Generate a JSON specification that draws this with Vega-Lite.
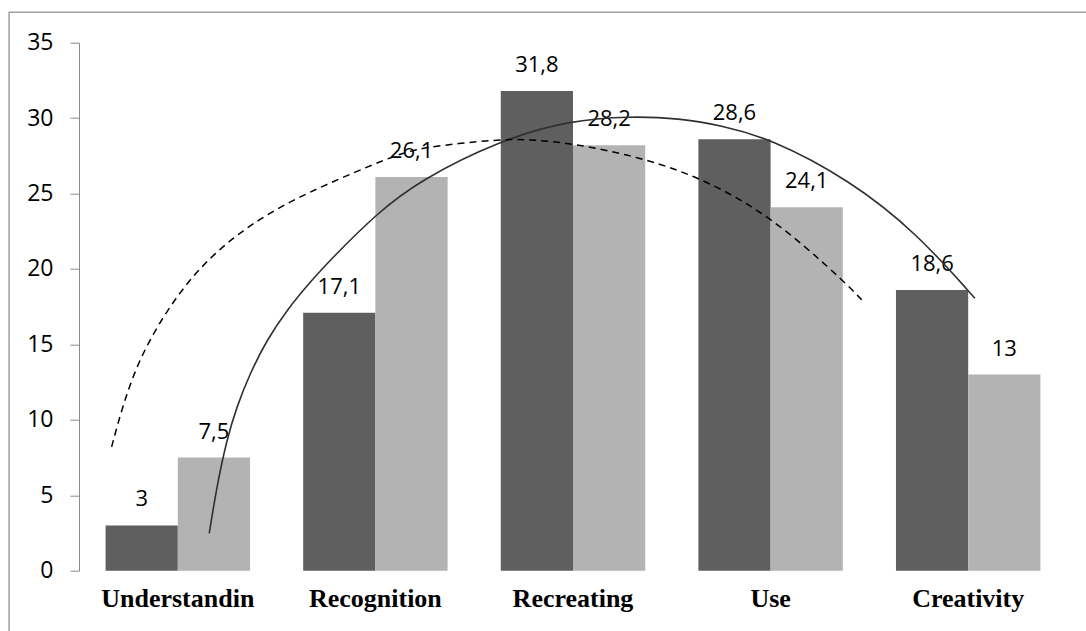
{
  "$schema": "https://vega.github.io/schema/vega-lite/v6.json",
  "width": 988,
  "height": 528,
  "autosize": "none",
  "padding": {"left": 79, "top": 42.7, "right": 19, "bottom": 60},
  "background": "white",
  "config": {
    "view": {"stroke": null},
    "locale": {"number": {"decimal": ",", "thousands": ".", "grouping": [3], "currency": ["", ""]}}
  },
  "datasets": {
    "bars": [
      {"category": "Understandin", "series": "A", "value": 3},
      {"category": "Understandin", "series": "B", "value": 7.5},
      {"category": "Recognition", "series": "A", "value": 17.1},
      {"category": "Recognition", "series": "B", "value": 26.1},
      {"category": "Recreating", "series": "A", "value": 31.8},
      {"category": "Recreating", "series": "B", "value": 28.2},
      {"category": "Use", "series": "A", "value": 28.6},
      {"category": "Use", "series": "B", "value": 24.1},
      {"category": "Creativity", "series": "A", "value": 18.6},
      {"category": "Creativity", "series": "B", "value": 13}
    ],
    "curves": [
      {"curve": "solid", "x": 0.659, "y": 2.47},
      {"curve": "solid", "x": 0.697, "y": 5.55},
      {"curve": "solid", "x": 0.747, "y": 8.65},
      {"curve": "solid", "x": 0.798, "y": 10.86},
      {"curve": "solid", "x": 0.865, "y": 13.07},
      {"curve": "solid", "x": 0.95, "y": 15.28},
      {"curve": "solid", "x": 1.051, "y": 17.27},
      {"curve": "solid", "x": 1.178, "y": 19.26},
      {"curve": "solid", "x": 1.27, "y": 20.58},
      {"curve": "solid", "x": 1.508, "y": 23.7},
      {"curve": "solid", "x": 1.726, "y": 25.89},
      {"curve": "solid", "x": 2.131, "y": 28.54},
      {"curve": "solid", "x": 2.485, "y": 29.86},
      {"curve": "solid", "x": 2.789, "y": 30.13},
      {"curve": "solid", "x": 3.041, "y": 29.99},
      {"curve": "solid", "x": 3.244, "y": 29.53},
      {"curve": "solid", "x": 3.497, "y": 28.67},
      {"curve": "solid", "x": 3.902, "y": 25.89},
      {"curve": "solid", "x": 4.241, "y": 22.37},
      {"curve": "solid", "x": 4.534, "y": 18.06},
      {"curve": "dashed", "x": 0.165, "y": 8.21},
      {"curve": "dashed", "x": 0.224, "y": 11.08},
      {"curve": "dashed", "x": 0.309, "y": 14.17},
      {"curve": "dashed", "x": 0.444, "y": 17.27},
      {"curve": "dashed", "x": 0.596, "y": 19.92},
      {"curve": "dashed", "x": 0.781, "y": 22.13},
      {"curve": "dashed", "x": 0.983, "y": 23.9},
      {"curve": "dashed", "x": 1.22, "y": 25.44},
      {"curve": "dashed", "x": 1.574, "y": 27.41},
      {"curve": "dashed", "x": 1.726, "y": 28.07},
      {"curve": "dashed", "x": 2.131, "y": 28.6},
      {"curve": "dashed", "x": 2.267, "y": 28.6},
      {"curve": "dashed", "x": 2.5, "y": 28.34},
      {"curve": "dashed", "x": 2.839, "y": 27.41},
      {"curve": "dashed", "x": 3.143, "y": 26.08},
      {"curve": "dashed", "x": 3.497, "y": 23.57},
      {"curve": "dashed", "x": 3.866, "y": 19.26},
      {"curve": "dashed", "x": 3.963, "y": 17.93}
    ]
  },
  "layer": [
    {
      "data": {"name": "bars"},
      "layer": [
        {
          "mark": {"type": "bar"},
          "encoding": {
            "x": {
              "field": "category", "type": "nominal", "sort": null,
              "scale": {"paddingInner": 0.269, "paddingOuter": 0.1345},
              "axis": {"title": null, "domain": false, "ticks": false, "labelAngle": 0,
                "labelFont": "Liberation Serif", "labelFontWeight": "bold", "labelFontSize": 26,
                "labelColor": "#000000", "labelPadding": 36, "labelBaseline": "alphabetic"}
            },
            "xOffset": {"field": "series", "type": "nominal", "scale": {"paddingInner": 0, "paddingOuter": 0}},
            "y": {
              "field": "value", "type": "quantitative",
              "scale": {"domain": [0, 35], "nice": false},
              "axis": {"title": null, "grid": false, "values": [0, 5, 10, 15, 20, 25, 30, 35],
                "domainColor": "#8a8a8a", "tickColor": "#8a8a8a", "tickSize": 9,
                "labelFont": "Open Sans", "labelFontSize": 23, "labelColor": "#000000", "labelPadding": 17}
            },
            "color": {"field": "series", "type": "nominal", "scale": {"domain": ["A", "B"], "range": ["#5f5f5f", "#b3b3b3"]}, "legend": null}
          }
        },
        {
          "mark": {"type": "text", "baseline": "alphabetic", "dy": -19, "font": "Open Sans", "fontSize": 22, "color": "#000000"},
          "encoding": {
            "x": {"field": "category", "type": "nominal", "sort": null},
            "xOffset": {"field": "series", "type": "nominal"},
            "y": {"field": "value", "type": "quantitative"},
            "text": {"field": "value", "type": "quantitative", "format": ".3~r"}
          }
        }
      ]
    },
    {
      "data": {"name": "curves"},
      "transform": [{"filter": "datum.curve === 'solid'"}],
      "mark": {"type": "line", "interpolate": "basis", "stroke": "#303030", "strokeWidth": 1.6},
      "encoding": {
        "x": {"field": "x", "type": "quantitative", "scale": {"domain": [0, 5], "nice": false, "zero": false}, "axis": null},
        "y": {"field": "y", "type": "quantitative", "scale": {"domain": [0, 35], "nice": false}}
      }
    },
    {
      "data": {"name": "curves"},
      "transform": [{"filter": "datum.curve === 'dashed'"}],
      "mark": {"type": "line", "interpolate": "basis", "stroke": "#000000", "strokeWidth": 1.5, "strokeDash": [7, 5]},
      "encoding": {
        "x": {"field": "x", "type": "quantitative", "scale": {"domain": [0, 5], "nice": false, "zero": false}, "axis": null},
        "y": {"field": "y", "type": "quantitative", "scale": {"domain": [0, 35], "nice": false}}
      }
    },
    {
      "data": {"values": [{"frame": 1}]},
      "mark": {"type": "rect", "fill": null, "stroke": "#a0a0a0", "strokeWidth": 1.5, "clip": false},
      "encoding": {
        "x": {"datum": -0.354, "type": "quantitative", "scale": {"domain": [0, 5], "nice": false, "zero": false}, "axis": null},
        "x2": {"datum": 6},
        "y": {"datum": 37.02, "type": "quantitative", "scale": {"domain": [0, 35], "nice": false}},
        "y2": {"datum": -5}
      }
    }
  ],
  "resolve": {"scale": {"x": "independent"}, "axis": {"x": "independent"}}
}
